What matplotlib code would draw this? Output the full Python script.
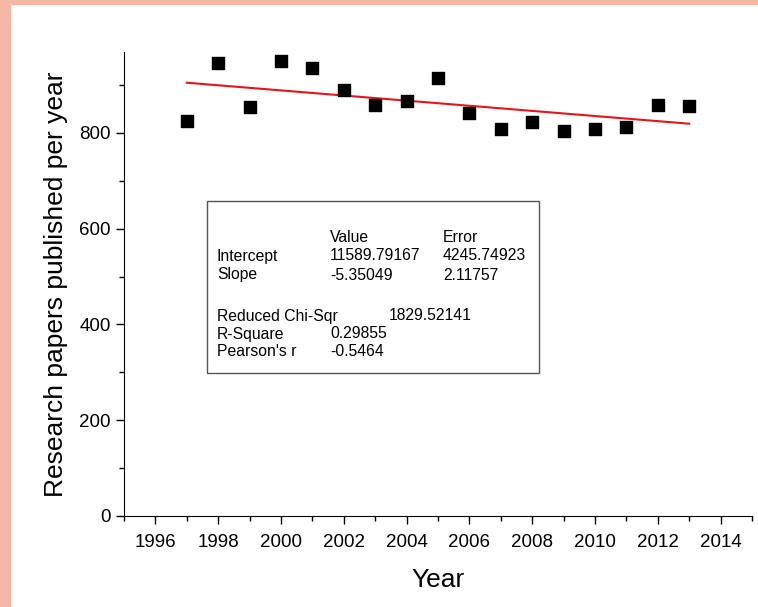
import matplotlib
matplotlib.use("Agg")
import matplotlib.pyplot as plt
from matplotlib.patches import Rectangle
from matplotlib.ticker import MultipleLocator
import numpy as np

# -------------------- Data ----------------------- #
years = [1997, 1998, 1999, 2000, 2001, 2002, 2003, 2004, 2005,
         2006, 2007, 2008, 2009, 2010, 2011, 2012, 2013]
papers = [825, 946, 854, 950, 936, 890, 858, 867, 915,
          842, 808, 823, 804, 808, 812, 858, 856]

intercept, intercept_err = 11589.79167, 4245.74923
slope, slope_err = -5.35049, 2.11757
chi_sqr = 1829.52141
r_square = 0.29855
pearson_r = -0.5464

# -------------------- Plot ----------------------- #
plt.rcParams['font.family'] = ['Liberation Sans', 'DejaVu Sans']

fig = plt.figure(figsize=(7.58, 6.07), dpi=100)
ax = fig.add_axes([124 / 758, 1 - 516 / 607, 628 / 758, 464 / 607])

# pink frame strips along top and left edge
border = '#F5B6A6'
fig.patches.append(Rectangle((0, 1 - 4 / 607), 1, 4 / 607, transform=fig.transFigure,
                             color=border, zorder=0))
fig.patches.append(Rectangle((0, 0), 10 / 758, 1, transform=fig.transFigure,
                             color=border, zorder=0))

ax.scatter(years, papers, marker='s', s=80, color='black', zorder=3)

fit_x = np.array([years[0], years[-1]])
ax.plot(fit_x, intercept + slope * fit_x, color='#E8141B', lw=1.5, zorder=2)

ax.set_xlim(1995, 2015)
ax.set_ylim(0, 969)
ax.xaxis.set_major_locator(MultipleLocator(2))
ax.xaxis.set_minor_locator(MultipleLocator(1))
ax.yaxis.set_major_locator(MultipleLocator(200))
ax.yaxis.set_minor_locator(MultipleLocator(100))
ax.tick_params(which='major', direction='out', length=6, width=1, labelsize=13.5)
ax.tick_params(which='minor', direction='out', length=3.5, width=1)
ax.tick_params(axis='x', which='major', pad=7)
ax.spines['top'].set_visible(False)
ax.spines['right'].set_visible(False)

ax.set_xlabel('Year', fontsize=19, labelpad=12)
ax.set_ylabel('Research papers published per year', fontsize=19, labelpad=8)

# -------------------- Fit statistics box ----------------------- #
bx0, bx1 = (207 - 124) / 628, (539 - 124) / 628
by0, by1 = (516 - 373) / 464, (516 - 201) / 464
ax.add_patch(Rectangle((bx0, by0), bx1 - bx0, by1 - by0, transform=ax.transAxes,
                       facecolor='white', edgecolor='#555555', lw=1, zorder=4))


def put(px, py, s):
    ax.text((px - 124) / 628, (516 - py) / 464, s, transform=ax.transAxes,
            fontsize=11.3, va='center', ha='left', zorder=5)


put(330, 237, 'Value')
put(443, 237, 'Error')
put(217, 256, 'Intercept')
put(330, 256, f'{intercept:.5f}')
put(443, 256, f'{intercept_err:.5f}')
put(217, 275, 'Slope')
put(330, 275, f'{slope:.5f}')
put(443, 275, f'{slope_err:.5f}')
put(217, 316, 'Reduced Chi-Sqr')
put(389, 316, f'{chi_sqr:.5f}')
put(217, 334, 'R-Square')
put(330, 334, f'{r_square:.5f}')
put(217, 352, "Pearson's r")
put(330, 352, f'{pearson_r}')

fig.savefig('out.png', dpi=100)
